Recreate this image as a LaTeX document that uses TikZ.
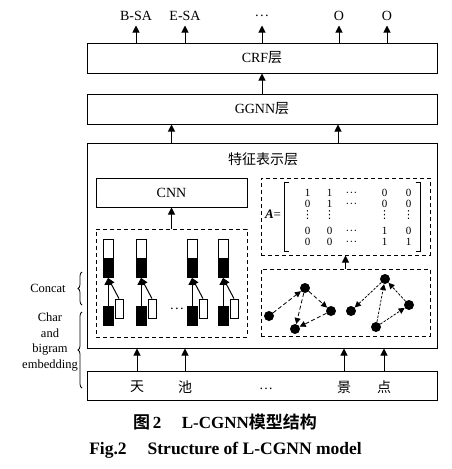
\documentclass[tikz,border=0pt]{standalone}
\usepackage{fontspec}
\setmainfont{Liberation Serif}
\newfontfamily\cjk[BoldFont={Noto Sans CJK SC Bold}]{Noto Sans CJK SC}
\newfontfamily\symf{DejaVu Sans}
\usetikzlibrary{arrows.meta, matrix, decorations.pathreplacing}
\newcommand{\diagfont}{\fontsize{14}{16.5}\selectfont}
\newcommand{\sidefont}{\fontsize{12.5}{15.5}\selectfont}
\newcommand{\cdotsx}{\textperiodcentered\kern0.3pt\textperiodcentered\kern0.3pt\textperiodcentered}
\newcommand{\vdotsx}{{\symf ⋮}}
\tikzset{
	layer/.style = {rectangle, minimum width = 350pt, minimum height = 30pt, text centered, draw = black, line width = 1pt},
	inner/.style = {rectangle, minimum width = 151pt, minimum height = 29pt, text centered, draw = black, line width = 1pt},
	dashbox/.style = {rectangle, draw = black, line width = 1pt, dash pattern = on 4pt off 3pt},
	cellw/.style = {rectangle, draw = black, fill = white, line width = 0.8pt, minimum width = 10pt, minimum height = 19pt, inner sep = 0pt},
	cellb/.style = {cellw, fill = black},
	bicell/.style = {cellw, minimum width = 8pt},
	gnode/.style = {circle, fill = black, minimum size = 10pt, inner sep = 0pt},
	lbl/.style = {inner sep = 0pt, outer sep = 5pt, text height = 9pt, text depth = 0pt},
	arrow/.style = {-{Triangle[length = 7pt, width = 7pt]}, draw = black, line width = 1pt},
	garrow/.style = {-{Triangle[length = 6pt, width = 6pt]}, draw = black, line width = 0.8pt, dash pattern = on 4pt off 2.5pt},
	garrow2/.style = {garrow, dash pattern = on 2.5pt off 1.5pt},
	brace/.style = {decorate, decoration = {brace, amplitude = 4pt}, line width = 0.8pt}
}

\begin{document}
\begin{tikzpicture}[x = 1pt, y = -1pt, every node/.style = {font = \diagfont}]
	\useasboundingbox (0,0) rectangle (452,469);
	
	%% layers
	\node (crf) [layer] at (262,58) {CRF{\cjk 层}};
	\node (ggnn) [layer] at (262,109) {GGNN{\cjk 层}};
	\node (feat) [layer, minimum height = 205pt] at (262,245.5) {};
	\node (feattitle) at (263,159) {\cjk 特征表示层};
	\node (inp) [layer, minimum height = 29pt] at (262,385.5) {};
	
	%% output labels
	\node (bsa) [lbl] at (136,16) {B-SA};
	\node (esa) [lbl] at (185,16) {E-SA};
	\node (odots) [lbl] at (262,16) {\cdotsx};
	\node (o1) [lbl] at (339,16) {O};
	\node (o2) [lbl] at (387,16) {O};
	
	%% input characters
	\node (tian) at (137,387) {\cjk 天};
	\node (chi) at (185,387) {\cjk 池};
	\node (idots) at (266,389) {\dots};
	\node (jing) at (344,387) {\cjk 景};
	\node (dian) at (384,387) {\cjk 点};
	
	%% left part: bilstm and cnn
	\node (cnn) [inner] at (171.5,192.5) {CNN};
	\node (lstm) [dashbox, minimum width = 151pt, minimum height = 108pt] at (171.5,283) {};
	\foreach \x [count=\i] in {108,141,192,223} {
		\node (hw\i) [cellw] at (\x,249) {};
		\node (hb\i) [cellb] at (\x,268) {};
		\node (eb\i) [cellb] at (\x,315.5) {};
		\node (ew\i) [bicell] at (\x+11,308.5) {};
		\draw [arrow] (eb\i) -- (hb\i);
		\draw [arrow] (ew\i.north) -- (hb\i.south);
	}
	\node (ldots) at (177,311) {\cdotsx};
	
	%% right part: adjacency matrix and graph
	\node (adjbox) [dashbox, minimum width = 169pt, minimum height = 77pt] at (345.5,216.5) {};
	\node (graph) [dashbox, minimum width = 169pt, minimum height = 67pt] at (345.5,302.5) {};
	\node (aeq) [font = \fontsize{13}{15}\selectfont] at (273,214) {\textbf{\textit{A}}=};
	\matrix (adj) [matrix of nodes, inner sep = 0pt, column sep = 10pt, row sep = 3.5pt,
		nodes = {inner sep = 0pt, minimum width = 12pt, text height = 7.5pt, text depth = 0pt, font = \fontsize{11}{13}\selectfont}] at (358,217) {
		1 & 1 & \cdotsx &[11pt] 0 &[2pt] 0 \\[0pt]
		0 & 1 & \cdotsx & 0 & 0 \\[0.5pt]
		\vdotsx & \vdotsx & & \vdotsx & \vdotsx \\[4.5pt]
		0 & 0 & \cdotsx & 1 & 0 \\[0pt]
		0 & 0 & \cdotsx & 1 & 1 \\
	};
	\draw [line width = 0.9pt] ([xshift = -12pt, yshift = 6pt]adj.north west) -- ++(-4.5,0) |- ([xshift = -12pt, yshift = -6pt]adj.south west);
	\draw [line width = 0.9pt] ([xshift = 1pt, yshift = 6pt]adj.north east) -- ++(4.5,0) |- ([xshift = 1pt, yshift = -6pt]adj.south east);
	
	\node (n1) [gnode] at (269,316) {};
	\node (n2) [gnode] at (305,288) {};
	\node (n3) [gnode] at (331,311) {};
	\node (n4) [gnode] at (295,329) {};
	\node (n5) [gnode] at (351,311) {};
	\node (n6) [gnode] at (385,279) {};
	\node (n7) [gnode] at (409,305) {};
	\node (n8) [gnode] at (376,327) {};
	
	%% braces
	\draw [brace] (82,305) -- (82,272);
	\draw [brace] (82,388) -- (82,312);
	\node (concat) [font = \sidefont] at (48,288) {Concat};
	\node (embed) [font = \sidefont, align = center] at (50,342) {Char\\and\\bigram\\embedding};
	
	%% caption
	\node (capzh) [font = \fontsize{17}{20}\selectfont] at (225,422) {{\cjk\bfseries 图}\,\textbf{2}\hspace{1.2em}\textbf{L-CGNN}{\cjk\bfseries 模型结构}};
	\node (capen) [font = \fontsize{17.5}{20}\selectfont] at (225.5,450) {\textbf{Fig.2\hspace{1.2em}Structure of L-CGNN model}};
	
	%% arrows
	\draw [arrow] (crf.north -| bsa) -- (bsa);
	\draw [arrow] (crf.north -| esa) -- (esa);
	\draw [arrow] (crf.north -| odots) -- (odots);
	\draw [arrow] (crf.north -| o1) -- (o1);
	\draw [arrow] (crf.north -| o2) -- (o2);
	\draw [arrow] (ggnn) -- (crf);
	\draw [arrow] (feat.north -| cnn) -- (ggnn.south -| cnn);
	\draw [arrow] ([xshift = 76pt]feat.north) -- ([xshift = 76pt]ggnn.south);
	\draw [arrow] (lstm) -- (cnn);
	\draw [arrow] (graph) -- (adjbox);
	\draw [arrow] (inp.north -| tian) -- (feat.south -| tian);
	\draw [arrow] (inp.north -| chi) -- (feat.south -| chi);
	\draw [arrow] (inp.north -| jing) -- (feat.south -| jing);
	\draw [arrow] (inp.north -| dian) -- (feat.south -| dian);
	
	\draw [garrow] (n1) -- (n2);
	\draw [garrow] (n2) -- (n3);
	\draw [garrow] (n2) -- (n4);
	\draw [garrow] (n3) -- (n4);
	\draw [garrow2] (n6) -- (n5);
	\draw [garrow2] (n8) -- (n6);
	\draw [garrow2] (n8) -- (n7);
	\draw [garrow2] (n7) -- (n6);
\end{tikzpicture}
\end{document}
